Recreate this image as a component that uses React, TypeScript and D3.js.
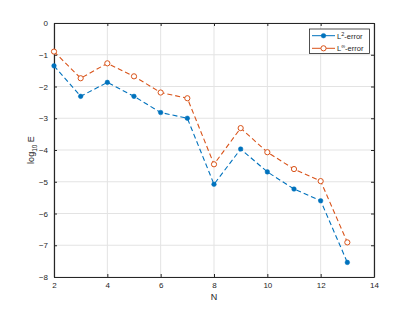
import React, { useEffect, useRef } from "react";
import * as d3 from "d3";

const nValues = [2, 3, 4, 5, 6, 7, 8, 9, 10, 11, 12, 13];
const l2Error = [-1.35, -2.31, -1.87, -2.31, -2.82, -3.0, -5.08, -3.97, -4.69, -5.23, -5.6, -7.54];
const lInfError = [-0.9, -1.74, -1.27, -1.68, -2.19, -2.37, -4.45, -3.31, -4.07, -4.6, -4.98, -6.91];
const xTicks = [2, 4, 6, 8, 10, 12, 14];
const yTicks = [0, -1, -2, -3, -4, -5, -6, -7, -8];

const W = 414;
const H = 311;
const margin = { top: 23, right: 40, bottom: 34, left: 54 };

function App() {
  const ref = useRef<SVGSVGElement>(null);

  useEffect(() => {
    drawChart();
  }, []);

  function drawChart() {
    const svg = d3.select(ref.current);
    svg.selectAll("*").remove();

    const x = d3.scaleLinear().domain([2, 14]).range([margin.left, W - margin.right]);
    const y = d3.scaleLinear().domain([-8, 0]).range([H - margin.bottom, margin.top]);
    const font = "Liberation Sans, Arial, sans-serif";
    const axisColor = "#262626";

    svg.append("rect").attr("width", W).attr("height", H).attr("fill", "#fff");

    // grid
    const grid = svg.append("g").attr("stroke", "#e3e3e3").attr("stroke-width", 1);
    grid
      .selectAll("line.gx")
      .data(xTicks)
      .join("line")
      .attr("x1", (d) => x(d))
      .attr("x2", (d) => x(d))
      .attr("y1", y(0))
      .attr("y2", y(-8));
    grid
      .selectAll("line.gy")
      .data(yTicks)
      .join("line")
      .attr("class", "gy")
      .attr("x1", x(2))
      .attr("x2", x(14))
      .attr("y1", (d) => y(d))
      .attr("y2", (d) => y(d));

    // axes
    const bottom = svg
      .append("g")
      .attr("transform", `translate(0,${y(-8)})`)
      .call(d3.axisBottom(x).tickValues(xTicks).tickSizeInner(-3).tickSizeOuter(0).tickPadding(5));
    const left = svg
      .append("g")
      .attr("transform", `translate(${x(2)},0)`)
      .call(d3.axisLeft(y).tickValues(yTicks).tickSizeInner(-3).tickSizeOuter(0).tickPadding(6));
    const top = svg
      .append("g")
      .attr("transform", `translate(0,${y(0)})`)
      .call(d3.axisTop(x).tickValues(xTicks).tickSizeInner(-3).tickSizeOuter(0).tickFormat(() => ""));
    const right = svg
      .append("g")
      .attr("transform", `translate(${x(14)},0)`)
      .call(d3.axisRight(y).tickValues(yTicks).tickSizeInner(-3).tickSizeOuter(0).tickFormat(() => ""));

    [bottom, left, top, right].forEach((g) => {
      g.select(".domain").attr("stroke", axisColor).attr("stroke-width", 1.2);
      g.selectAll(".tick line").attr("stroke", axisColor);
      g.selectAll(".tick text")
        .attr("fill", axisColor)
        .attr("font-family", font)
        .attr("font-size", 8);
    });

    // series
    const line = d3
      .line<number>()
      .x((d, i) => x(nValues[i]))
      .y((d) => y(d));

    const series = [
      { data: l2Error, color: "#0072BD", filled: true },
      { data: lInfError, color: "#D95319", filled: false },
    ];

    series.forEach((s) => {
      svg
        .append("path")
        .datum(s.data)
        .attr("fill", "none")
        .attr("stroke", s.color)
        .attr("stroke-width", 1.1)
        .attr("stroke-dasharray", "5,3")
        .attr("d", line);
      svg
        .append("g")
        .selectAll("circle")
        .data(s.data)
        .join("circle")
        .attr("cx", (d, i) => x(nValues[i]))
        .attr("cy", (d) => y(d))
        .attr("r", s.filled ? 2.3 : 2.6)
        .attr("fill", s.filled ? s.color : "#fff")
        .attr("stroke", s.color)
        .attr("stroke-width", s.filled ? 0.5 : 1);
    });

    // axis labels
    svg
      .append("text")
      .attr("x", x(8))
      .attr("y", 300)
      .attr("text-anchor", "middle")
      .attr("font-family", font)
      .attr("font-size", 9)
      .attr("fill", axisColor)
      .text("N");

    const yl = svg
      .append("text")
      .attr("transform", `translate(34,${y(-4)}) rotate(-90)`)
      .attr("text-anchor", "middle")
      .attr("font-family", font)
      .attr("font-size", 9)
      .attr("fill", axisColor);
    yl.append("tspan").text("log");
    yl.append("tspan").attr("font-size", 6.5).attr("dy", 2.5).text("10");
    yl.append("tspan").attr("dy", -2.5).text(" E");

    // legend
    const lg = svg.append("g");
    lg.append("rect")
      .attr("x", 309.5)
      .attr("y", 29)
      .attr("width", 60)
      .attr("height", 24.5)
      .attr("fill", "#fff")
      .attr("stroke", axisColor)
      .attr("stroke-width", 0.8);
    const labels = [
      { sup: "2", color: "#0072BD", filled: true },
      { sup: "\u221E", color: "#D95319", filled: false },
    ];
    labels.forEach((l, i) => {
      const ly = 35.7 + i * 12.6;
      lg.append("line")
        .attr("x1", 312)
        .attr("x2", 335)
        .attr("y1", ly)
        .attr("y2", ly)
        .attr("stroke", l.color)
        .attr("stroke-width", 1);
      lg.append("circle")
        .attr("cx", 323.5)
        .attr("cy", ly)
        .attr("r", l.filled ? 2.3 : 2.6)
        .attr("fill", l.filled ? l.color : "#fff")
        .attr("stroke", l.color)
        .attr("stroke-width", l.filled ? 0.5 : 1);
      const t = lg
        .append("text")
        .attr("x", 337)
        .attr("y", ly + 2.8)
        .attr("font-family", font)
        .attr("font-size", 7.5)
        .attr("fill", axisColor);
      t.append("tspan").text("L");
      t.append("tspan").attr("font-size", 5.5).attr("dy", -3).text(l.sup);
      t.append("tspan").attr("dy", 3).text("-error");
    });
  }

  return <svg ref={ref} width={W} height={H} style={{ position: "absolute", left: 0, top: 0 }} />;
}

export default App;
